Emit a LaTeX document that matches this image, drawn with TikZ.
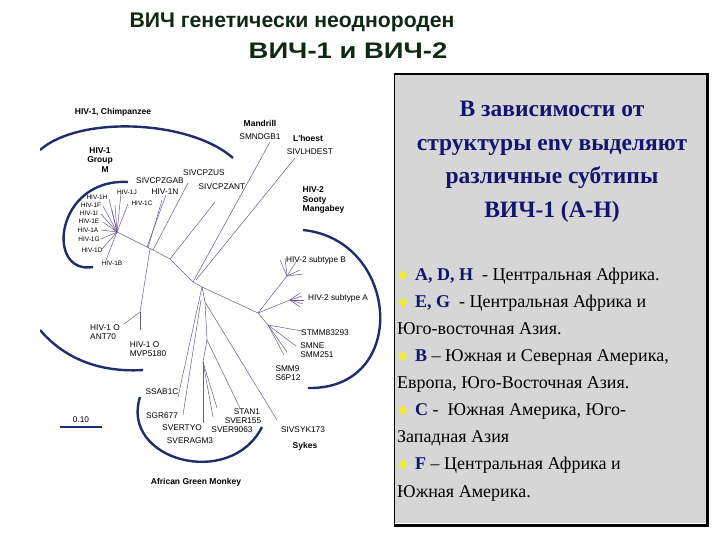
\documentclass[tikz,border=0pt]{standalone}
\usepackage{fontspec}
\setmainfont{Liberation Serif}
\newfontfamily\lsans{Liberation Sans}
\newfontfamily\djv{DejaVu Sans}
\definecolor{navy}{HTML}{1F2D6B}
\definecolor{tnavy}{HTML}{14146E}
\definecolor{tgreen}{HTML}{0F2A12}
\definecolor{br}{HTML}{6A5A8A}
\definecolor{boxgray}{HTML}{D6D6D6}
\newcommand{\hdx}[1]{\textbf{\color{tnavy}#1}}
\newcommand{\bul}{{\djv\color{yellow}\fontsize{13}{13}\selectfont ❖}\hspace{0.35em}}
\begin{document}
\begin{tikzpicture}[x=1pt,y=-1pt,
  lab/.style={font=\lsans\fontsize{8.3}{9}\selectfont, inner sep=0.5pt},
  slab/.style={font=\lsans\fontsize{6.5}{7}\selectfont, inner sep=0.5pt},
  blab/.style={font=\lsans\bfseries\fontsize{8.5}{9.5}\selectfont, inner sep=0.5pt, align=left},
  brn/.style={draw=br, line width=0.5pt},
  arcl/.style={draw=navy, line width=2.4pt},
  btxt/.style={anchor=base west, font=\fontsize{18}{19}\selectfont, inner sep=0}]
\useasboundingbox (0,0) rectangle (720,540);
% title
\node[font=\lsans\bfseries\fontsize{21.2}{22}\selectfont, text=tgreen] (t1) at (292,22) {ВИЧ генетически неоднороден};
\node[font=\lsans\bfseries\fontsize{22.5}{24}\selectfont, text=tgreen, xscale=1.22] (t2) at (348,51) {ВИЧ-1 и ВИЧ-2};
% tree
\begin{scope}
\clip (40,100) rectangle (386,492);
\coordinate (C) at (202,287);
\coordinate (R) at (258,313);
\coordinate (M) at (117,232);
\coordinate (J1) at (147,247);
\coordinate (J2) at (153,250);
\coordinate (J3) at (170,259);
\coordinate (J4) at (193,282);
\draw[brn] (C) -- (J4) -- (J3) -- (J2) -- (J1) -- (M);
\draw[brn] (J1) -- (166,195);
\draw[brn] (148,248) -- (162,200);
\draw[brn] (J2) -- (188,183);
\draw[brn] (J3) -- (215,202);
\draw[brn] (J4) -- (270,142);
\draw[brn] (196,280) -- (295,158);
\coordinate (O1) at (140,312);
\draw[brn] (150,249) -- (O1) -- (124,324);
\draw[brn] (O1) -- (140,330);
\foreach \p in {(121,193),(128,204),(109,199),(103,206),(101,214),(103,222),(101,230),(101,239),(102,249),(106,260),(115,205),(112,210)}
  \draw[brn] (M) -- \p;
% HIV-2
\draw[brn] (C) -- (R);
\coordinate (B) at (287,276);
\draw[brn] (R) -- (B);
\foreach \p in {(280,260),(285,258),(296,262),(300,270),(303,274)} \draw[brn] (B) -- \p;
\coordinate (A) at (290,300);
\draw[brn] (R) -- (A);
\foreach \p in {(302,296),(304,300),(303,304),(300,307),(300,293)} \draw[brn] (A) -- \p;
\coordinate (S) at (268,325);
\draw[brn] (R) -- (S) -- (302,331);
\draw[brn] (S) -- (296,346);
\draw[brn] (S) -- (284,355);
\draw[brn] (S) -- (287,352);
% AGM
\coordinate (G1) at (203,362);
\coordinate (G2) at (205,302);
\coordinate (G3) at (207,340);
\draw[brn] (C) -- (178,397);
\draw[brn] (C) -- (G2) -- (G3) -- (G1);
\draw[brn] (201,300) -- (183,415);
\draw[brn] (G1) -- (203,423);
\draw[brn] (G1) -- (213,417);
\draw[brn] (G1) -- (217,408);
\draw[brn] (G3) -- (240,408);
\draw[brn] (G2) -- (277,420);
% arcs
\draw[arcl] (233,158) .. controls (190,120) and (80,115) .. (40,150);
\draw[arcl] (40,330) .. controls (70,365) and (110,372) .. (143,370);
\draw[arcl] (128,182) .. controls (55,178) and (45,275) .. (93,267);
\draw[arcl] (303,230) .. controls (400,240) and (410,390) .. (308,388);
\draw[arcl] (140,397) .. controls (120,460) and (230,490) .. (262,427);
\end{scope}
\draw[draw=navy, line width=2pt] (60,427) -- (102,427);
\node[lab] (sc) at (81,420) {0.10};
% labels
\node[blab] (chimp) at (113,112) {HIV-1, Chimpanzee};
\node[blab, align=center] (gm) at (100,160) {HIV-1\\Group\\\hspace*{1.2em}M};
\node[blab] (mand) at (260,123) {Mandrill};
\node[lab] (smn) at (260,137) {SMNDGB1};
\node[blab] (lh) at (308,138) {L'hoest};
\node[lab] (slh) at (310,152) {SIVLHDEST};
\node[blab, anchor=north west] (h2) at (302,186) {HIV-2\\Sooty\\Mangabey};
\node[lab] (cpzgab) at (160,181) {SIVCPZGAB};
\node[lab] (n1n) at (165,192) {HIV-1N};
\node[lab] (cpzus) at (204,173) {SIVCPZUS};
\node[lab] (cpzant) at (222,187) {SIVCPZANT};
\node[slab] at (127,192) {HIV-1J};
\node[slab] at (142,203) {HIV-1C};
\node[slab] at (97,197) {HIV-1H};
\node[slab] at (91,205) {HIV-1F};
\node[slab] at (89,213) {HIV-1I};
\node[slab] at (89,221) {HIV-1E};
\node[slab] at (88,230) {HIV-1A};
\node[slab] at (89,239) {HIV-1G};
\node[slab] at (92,250) {HIV-1D};
\node[slab] at (112,263) {HIV-1B};
\node[lab, align=left] (o1) at (105,332) {HIV-1 O\\ANT70};
\node[lab, align=left] (o2) at (148,349) {HIV-1 O\\MVP5180};
\node[lab] (sb) at (316,260) {HIV-2 subtype B};
\node[lab] (sa) at (338,298) {HIV-2 subtype A};
\node[lab] (stm) at (325,333) {STMM83293};
\node[lab, align=left] (smne) at (317,350) {SMNE\\SMM251};
\node[lab, align=left] (smm9) at (288,373) {SMM9\\S6P12};
\node[lab] (ssab) at (162,392) {SSAB1C};
\node[lab] (sgr) at (162,416) {SGR677};
\node[lab] (svty) at (182,428) {SVERTYO};
\node[lab] (svagm) at (190,441) {SVERAGM3};
\node[lab] (sv9063) at (232,430) {SVER9063};
\node[lab] (sv155) at (243,421) {SVER155};
\node[lab] (stan) at (247,412) {STAN1};
\node[lab] (syk) at (303,430) {SIVSYK173};
\node[blab] (sykes) at (305,446) {Sykes};
\node[blab] (agm) at (196,482) {African Green Monkey};
% box
\fill[boxgray] (394,74) rectangle (706,523);
\draw[black, line width=0.8pt] (394,524) -- (394,74);
\draw[black, line width=1.5pt] (393.5,74) -- (707,74);
\draw[black, line width=3pt] (707,73) -- (707,525) -- (394,525);
\node[font=\bfseries\fontsize{23.5}{33.5}\selectfont, text=tnavy, align=center] (bt) at (552,162)
  {В зависимости от\\структуры env выделяют\\различные субтипы\\ВИЧ-1 (A-H)};
\node[btxt] (l1) at (397,280) {\bul\hdx{A, D, H}\ \ - Центральная Африка.};
\node[btxt] (l2) at (397,307) {\bul\hdx{E, G}\ \ - Центральная Африка и};
\node[btxt] (l3) at (397,334) {Юго-восточная Азия.};
\node[btxt] (l4) at (397,361) {\bul\hdx{B} – Южная и Северная Америка,};
\node[btxt] (l5) at (397,388) {Европа, Юго-Восточная Азия.};
\node[btxt] (l6) at (397,415) {\bul\hdx{C} -\ \ Южная Америка, Юго-};
\node[btxt] (l7) at (397,442) {Западная Азия};
\node[btxt] (l8) at (397,469) {\bul\hdx{F} – Центральная Африка и};
\node[btxt] (l9) at (397,497) {Южная Америка.};
\end{tikzpicture}
\end{document}
